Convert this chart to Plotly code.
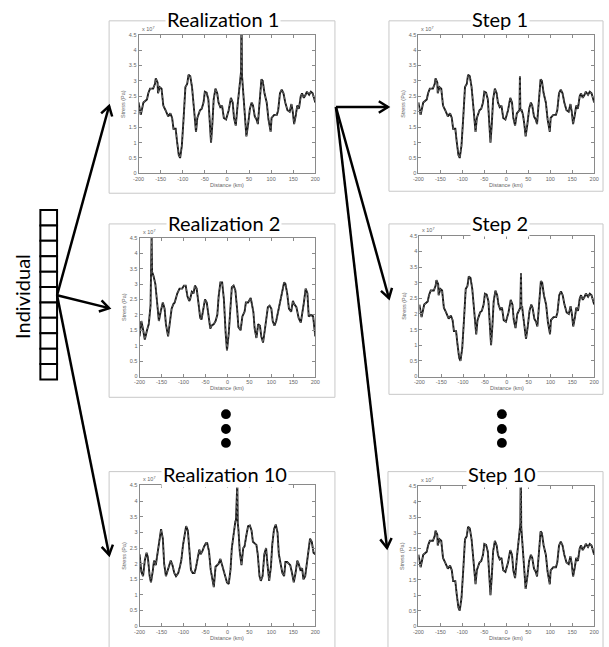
import math
import plotly.graph_objects as go

W, H = 609, 647

# ---------------- data (stress in units of 1e7 Pa) ----------------
base_left_x = [-200, -195, -189, -181, -178, -174, -167, -163, -161, -157, -156, -152, -148, -144,
               -139, -133, -128, -124, -121, -116, -113, -109, -106, -102, -98, -94, -90, -87, -83,
               -79, -74, -70, -67, -61, -57, -53, -50, -46, -42, -39, -36, -33, -30, -26, -22, -19,
               -15, -11, -7, -2, 4, 9, 13, 16, 20]
base_left_y = [2.3, 1.9, 2.3, 2.4, 2.6, 2.75, 2.75, 2.9, 3.08, 2.95, 2.6, 2.8, 2.75, 2.2,
               2.05, 1.85, 1.95, 1.8, 1.45, 1.45, 1.05, 0.6, 0.5, 0.9, 1.8, 2.8, 2.9, 3.2, 3.15,
               2.8, 2.0, 1.35, 1.8, 2.05, 2.1, 2.3, 2.65, 2.62, 2.4, 1.5, 1.0, 1.6, 2.4, 2.75, 2.6, 2.3,
               2.15, 2.2, 1.8, 1.75, 2.05, 2.45, 2.3, 1.8, 1.55]

base_right_x = [41, 44, 48, 52, 56, 59, 63, 67, 70, 74, 78, 81, 85, 90, 94, 99, 101, 107, 113, 116,
                120, 124, 128, 132, 137, 142, 146, 149, 152, 156, 159, 163, 167, 170, 174, 178, 181,
                186, 190, 194, 200]
base_right_y = [1.6, 1.2, 1.6, 2.1, 2.3, 2.2, 1.85, 1.75, 1.6, 2.3, 3.05, 3.0, 2.6, 2.3, 1.75, 1.35,
                1.8, 1.9, 1.9, 2.05, 2.6, 2.72, 2.6, 2.3, 2.05, 2.0, 2.25, 2.0, 1.6, 1.9, 2.2, 2.1,
                2.5, 2.6, 2.45, 2.55, 2.65, 2.55, 2.65, 2.6, 2.3]

# middle segments (around the spike) for the related curves
seg_r1_x = [24, 29, 32, 32.6, 33.4, 34, 36]
seg_r1_y = [2.2, 3.0, 3.3, 4.6, 4.6, 3.2, 2.8]
seg_s1_x = [24, 27, 30, 31, 32, 35, 38]
seg_s1_y = [1.95, 2.0, 2.05, 3.15, 2.05, 2.05, 1.9]
seg_s2_x = [24, 28, 31, 32.5, 33.5, 35, 37]
seg_s2_y = [2.0, 2.15, 2.2, 3.3, 2.2, 2.25, 2.0]

r2_x = [-200, -196, -193, -188, -183, -179, -175, -173.5, -172.5, -171.5, -168, -164, -161, -156,
        -152, -147, -143, -140, -135, -131, -127, -123, -120, -114, -109, -103, -99, -95, -91,
        -87, -85, -81, -77, -74, -70, -66, -62, -59, -55, -51, -47, -43, -39, -36, -31, -27, -23,
        -20, -16, -12, -8, -4, -1, 3, 7, 10, 14, 18, 22, 25, 30, 34, 39, 42, 47, 53, 55, 59, 62,
        66, 70, 74, 77, 81, 85, 88, 92, 96, 100, 103, 107, 111, 115, 119, 124, 129, 132, 136, 140,
        145, 149, 152, 157, 162, 167, 170, 174, 178, 182, 185, 190, 195, 199, 200]
r2_y = [1.3, 1.8, 1.6, 1.2, 1.5, 1.7, 2.3, 3.3, 4.6, 3.4, 3.25, 3.0, 2.6, 1.8,
        2.1, 2.4, 2.2, 1.7, 1.3, 1.7, 2.2, 2.35, 2.4, 2.7, 2.85, 2.85, 2.95, 2.95, 2.6,
        2.45, 2.5, 2.75, 2.7, 2.95, 2.85, 2.4, 1.9, 1.85, 2.2, 2.5, 2.4, 1.9, 1.55, 1.65, 1.7, 1.8, 2.0,
        2.6, 3.05, 3.05, 2.5, 1.4, 0.85, 1.4, 2.3, 2.9, 2.95, 2.8, 2.2, 1.6, 1.5, 1.95, 2.1, 2.4, 2.4, 2.55, 2.4, 2.1, 1.55,
        1.25, 1.7, 1.65, 1.3, 1.1, 1.5, 1.9, 2.25, 2.3, 2.2, 1.8, 1.65, 1.8, 2.1, 2.3, 2.8, 3.05, 3.0, 2.7, 2.2,
        2.1, 2.45, 2.35, 2.25, 1.9, 1.75, 2.0, 2.4, 2.85, 2.7, 1.95, 2.0, 1.95, 1.5, 1.3]

r10_x = [-200, -196, -192, -188, -184, -181, -177, -174, -170, -167, -163, -159, -155, -151, -147,
         -144, -140, -136, -132, -129, -125, -121, -117, -112, -109, -105, -101, -97, -94, -90, -86,
         -83, -79, -75, -72, -68, -64, -61, -57, -53, -49, -46, -42, -38, -34, -31, -27, -23, -20,
         -16, -12, -8, -5, -1, 3, 7, 10, 14, 18, 19.5, 20.5, 22.5, 23.5, 25, 28, 32, 36, 39, 43, 47,
         51, 55, 58, 62, 66, 69, 73, 76, 80, 84, 88, 91, 95, 99, 102, 106, 110, 114, 117, 121, 125,
         129, 132, 136, 140, 143, 147, 151, 155, 159, 162, 166, 170, 173, 177, 181, 185, 188, 192,
         196, 200]
r10_y = [2.3, 1.75, 1.6, 2.1, 2.35, 2.2, 1.6, 1.4, 1.75, 2.1, 1.95, 2.3, 2.7, 3.1, 2.8,
         2.0, 1.6, 1.8, 1.95, 2.1, 1.95, 1.7, 1.6, 1.7, 1.85, 2.1, 2.6, 3.05, 3.2, 3.05, 2.4,
         1.8, 1.7, 1.7, 1.85, 2.2, 2.45, 2.3, 2.4, 2.55, 2.65, 2.65, 2.4, 1.8, 1.4, 1.25, 1.9, 1.95, 2.0,
         2.15, 1.95, 1.7, 1.55, 1.4, 1.35, 1.8, 2.5, 3.0, 3.35, 3.4, 4.6, 4.6, 3.3, 3.1, 2.4, 1.95, 2.5, 2.55, 2.9, 3.2,
         3.22, 3.05, 2.7, 2.65, 2.6, 2.3, 1.6, 1.45, 1.6, 2.3, 2.5, 2.0, 1.45, 1.9, 2.6, 3.1, 3.25, 3.0, 2.3, 2.0, 1.7,
         1.6, 2.05, 2.05, 2.0, 1.95, 1.7, 1.4, 1.7, 2.1, 2.0, 1.8, 1.85, 1.5, 1.6, 2.1, 2.6, 2.8, 2.7,
         2.35, 2.3]

x_ticks = [-200, -150, -100, -50, 0, 50, 100, 150, 200]
x_tick_text = ["-200", "-150", "-100", "-50", "0", "50", "100", "150", "200"]
y_ticks = [0, 0.5, 1, 1.5, 2, 2.5, 3, 3.5, 4, 4.5]
y_tick_text = ["0", "0.5", "1", "1.5", "2", "2.5", "3", "3.5", "4", "4.5"]

x_label = "Distance (km)"
y_label = "Stress (Pa)"
panel_titles = ["Realization 1", "Step 1", "Realization 2", "Step 2", "Realization 10", "Step 10"]

series = [
    (base_left_x + seg_r1_x + base_right_x, base_left_y + seg_r1_y + base_right_y),
    (base_left_x + seg_s1_x + base_right_x, base_left_y + seg_s1_y + base_right_y),
    (r2_x, r2_y),
    (base_left_x + seg_s2_x + base_right_x, base_left_y + seg_s2_y + base_right_y),
    (r10_x, r10_y),
    (base_left_x + seg_r1_x + base_right_x, base_left_y + seg_r1_y + base_right_y),
]

# ---------------- layout geometry (pixels) ----------------
def px(x):
    return x / W

def py(y):
    return 1 - y / H

axes_px = [(135, 315, 32, 172), (420, 599, 32, 172),
           (136, 315, 237, 377), (421, 599, 235, 377),
           (136, 315, 487, 629), (420, 599, 488, 629)]
frames_px = [(105, 335, 18, 192), (390, 608, 18, 190),
             (105, 335, 223, 398), (390, 608, 223, 395),
             (105, 335, 473, 660), (389, 608, 473, 660)]
title_px = [(221, 16), (503, 16), (222, 222), (503, 222), (223, 475), (505, 475)]

fig = go.Figure()
layout = dict(width=W, height=H, margin=dict(l=0, r=0, t=0, b=0),
              paper_bgcolor="white", plot_bgcolor="white", showlegend=False)

small_font = dict(family="Liberation Sans", size=5.5, color="#666")
annotations = []
shapes = []

for i, ((l, r, t, b), (xs, ys)) in enumerate(zip(axes_px, series)):
    n = "" if i == 0 else str(i + 1)
    xa, ya = "x" + n, "y" + n
    fig.add_trace(go.Scatter(x=xs, y=ys, mode="lines", xaxis=xa, yaxis=ya,
                             line=dict(color="#151515", width=1.9), hoverinfo="skip"))
    fig.add_trace(go.Scatter(x=xs, y=ys, mode="lines", xaxis=xa, yaxis=ya,
                             line=dict(color="#999", width=0.6, dash="3px,2px"), hoverinfo="skip"))
    common = dict(showline=True, linecolor="#8a8a8a", linewidth=1, mirror="ticks",
                  ticks="inside", ticklen=3, tickcolor="#8a8a8a", showgrid=False,
                  zeroline=False, tickfont=small_font)
    layout["xaxis" + n] = dict(domain=[px(l), px(r)], anchor=ya, range=[-200, 200],
                               tickvals=x_ticks, ticktext=x_tick_text, **common)
    layout["yaxis" + n] = dict(domain=[py(b), py(t)], anchor=xa, range=[0, 4.5],
                               tickvals=y_ticks, ticktext=y_tick_text, **common)
    # axis labels
    annotations.append(dict(xref="paper", yref="paper", x=px((l + r) / 2), y=py(b + 12),
                            xanchor="center", yanchor="middle", showarrow=False,
                            text=x_label, font=small_font))
    annotations.append(dict(xref="paper", yref="paper", x=px(l - 16), y=py((t + b) / 2),
                            xanchor="center", yanchor="middle", showarrow=False, textangle=-90,
                            text=y_label, font=small_font))
    annotations.append(dict(xref="paper", yref="paper", x=px(l + 1), y=py(t - 1),
                            xanchor="left", yanchor="bottom", showarrow=False,
                            text="x 10<sup>7</sup>", font=small_font))

for (l, r, t, b) in frames_px:
    shapes.append(dict(type="rect", xref="paper", yref="paper", x0=px(l), x1=px(r), y0=py(b), y1=py(t),
                       line=dict(color="#c8c8c8", width=1), layer="below"))

for (cx, cy), txt in zip(title_px, panel_titles):
    annotations.append(dict(xref="paper", yref="paper", x=px(cx), y=py(cy), xanchor="center",
                            yanchor="middle", showarrow=False, text=txt, bgcolor="white",
                            font=dict(family="Lato", size=20, color="black")))

# "Individual" stack of boxes
box_top, box_bottom, box_l, box_r, n_boxes = 209, 380, 35, 52, 11
hb = (box_bottom - box_top) / n_boxes
for k in range(n_boxes):
    shapes.append(dict(type="rect", xref="paper", yref="paper", x0=px(box_l), x1=px(box_r),
                       y0=py(box_top + (k + 1) * hb), y1=py(box_top + k * hb),
                       line=dict(color="black", width=2), fillcolor="white"))
annotations.append(dict(xref="paper", yref="paper", x=px(17), y=py(296), textangle=-90,
                        xanchor="center", yanchor="middle", showarrow=False, text="Individual",
                        font=dict(family="Lato", size=20, color="black")))

# ellipsis dots
for cx in (224, 505):
    for cy in (415, 430, 444):
        shapes.append(dict(type="circle", xref="paper", yref="paper",
                           x0=px(cx - 5), x1=px(cx + 5), y0=py(cy + 5), y1=py(cy - 5),
                           fillcolor="black", line=dict(width=0)))

# arrows: (tail_x, tail_y, head_x, head_y) in pixels
arrows = [(52, 295, 105, 104), (52, 295, 105, 308), (52, 295, 105, 557),
          (336, 105, 389, 105), (336, 105, 390, 298), (336, 105, 388, 550)]
head_len, head_ang = 11, math.radians(32)
for (tx, ty, hx, hy) in arrows:
    shapes.append(dict(type="line", xref="paper", yref="paper", x0=px(tx), y0=py(ty),
                       x1=px(hx), y1=py(hy), line=dict(color="black", width=2.5)))
    dx, dy = hx - tx, hy - ty
    d = math.hypot(dx, dy)
    ux, uy = dx / d, dy / d
    pts = []
    for s in (1, -1):
        c, sn = math.cos(s * head_ang), math.sin(s * head_ang)
        rx, ry = ux * c - uy * sn, ux * sn + uy * c
        pts.append((hx - head_len * rx, hy - head_len * ry))
    path = "M {:.5f},{:.5f} L {:.5f},{:.5f} L {:.5f},{:.5f}".format(
        px(pts[0][0]), py(pts[0][1]), px(hx), py(hy), px(pts[1][0]), py(pts[1][1]))
    shapes.append(dict(type="path", xref="paper", yref="paper", path=path,
                       line=dict(color="black", width=2.5)))

layout["annotations"] = annotations
layout["shapes"] = shapes
fig.update_layout(**layout)
fig.write_html("out.html")
